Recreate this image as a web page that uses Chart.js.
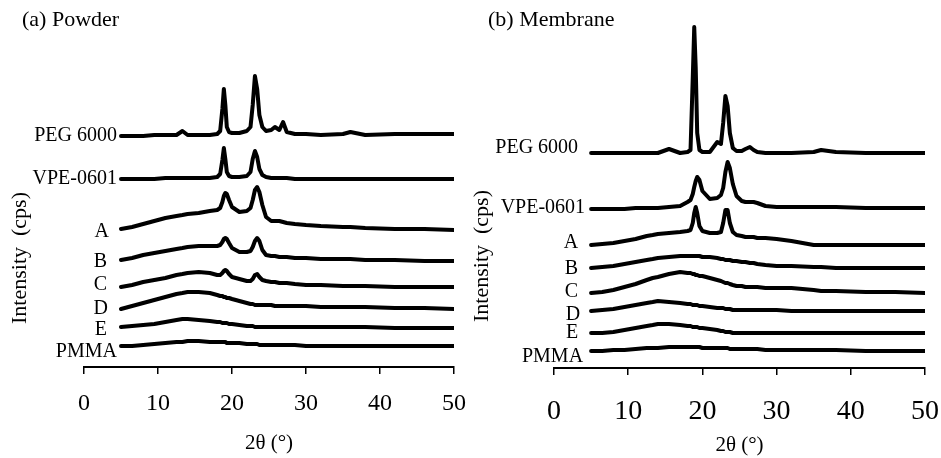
<!DOCTYPE html>
<html>
<head>
<meta charset="utf-8">
<script src="https://cdn.jsdelivr.net/npm/chart.js@4/dist/chart.umd.min.js"></script>
<style>
  html, body { margin: 0; padding: 0; background: #fff; }
  #wrap { position: relative; width: 941px; height: 458px; }
  canvas { position: absolute; top: 0; }
</style>
</head>
<body>
<div id="wrap">
  <canvas id="powderChart" width="470" height="458" style="left:0"></canvas>
  <canvas id="membraneChart" width="471" height="458" style="left:470px"></canvas>
</div>
<script>
// 2-theta positions shared by every pattern
const twoTheta = [5, 6.5, 8, 9.5, 11, 12.5, 13.3, 14, 15.5, 17, 18, 18.4, 18.7, 18.9, 19.1,
  19.3, 19.6, 20, 21, 22, 22.5, 22.8, 23.1, 23.4, 23.7, 24.1, 24.6, 25.3, 25.8, 26.4,
  26.9, 27.4, 28.5, 30, 32, 35, 36, 38, 42, 46, 50];

const sampleNames = ["PEG 6000", "VPE-0601", "A", "B", "C", "D", "E", "PMMA"];
const xTicks = [0, 10, 20, 30, 40, 50];

// (a) Powder, stacked intensities
const powderPEG = [231, 231, 231, 232, 232, 232, 236, 232, 232, 232, 233, 236, 258, 278, 262,
  240, 235, 234, 234, 236, 240, 262, 291, 278, 252, 240, 236, 237, 240, 237,
  245, 235, 233, 233, 232, 233, 235, 232, 233, 233, 233];
const powderVPE = [188, 188, 188, 188, 189, 189, 189, 189, 189, 189, 190, 193, 207, 219, 208,
  195, 191, 190, 190, 191, 195, 208, 216, 210, 198, 192, 190, 189, 189, 189,
  189, 189, 188, 188, 188, 188, 188, 188, 188, 188, 188];
const powderA = [138, 140, 143, 146, 149, 151, 152, 153, 154, 156, 157, 159, 165, 171, 174,
  173, 167, 160, 155, 156, 159, 167, 177, 180, 175, 162, 150, 146, 146, 146,
  145, 144, 143, 142, 141, 140, 140, 139, 138, 138, 137];
const powderB = [107, 109, 112, 114, 116, 118, 119, 120, 121, 121, 121, 122, 125, 128, 129,
  128, 124, 119, 115, 115, 116, 120, 126, 129, 126, 117, 112, 111, 111, 110,
  110, 110, 109, 109, 108, 108, 108, 107, 107, 106, 106];
const powderC = [80, 82, 85, 87, 89, 92, 93, 94, 95, 94, 92, 92, 94, 96, 97,
  96, 93, 90, 88, 86, 86, 88, 92, 93, 90, 87, 86, 85, 85, 84,
  84, 84, 83, 82, 82, 81, 81, 81, 80, 80, 80];
const powderD = [58, 61, 64, 67, 70, 73, 74, 75, 75, 74, 72, 71, 71, 70, 70,
  69, 69, 68, 66, 64, 63, 63, 62, 62, 62, 62, 62, 62, 61, 61,
  61, 61, 61, 61, 60, 60, 60, 60, 59, 59, 58];
const powderE = [40, 41, 42, 43, 45, 47, 48, 48, 47, 46, 45, 45, 44, 44, 44,
  44, 43, 43, 42, 41, 41, 41, 40, 40, 40, 40, 40, 40, 40, 40,
  40, 40, 40, 40, 40, 40, 40, 40, 39, 39, 39];
const powderPMMA = [21, 21, 22, 23, 24, 25, 25, 26, 26, 25, 25, 25, 25, 25, 25,
  24, 24, 24, 24, 23, 23, 23, 23, 23, 22, 22, 22, 22, 22, 22,
  22, 22, 22, 21, 21, 21, 21, 21, 21, 21, 21];

// (b) Membrane, stacked intensities
const membranePEG = [215, 215, 215, 215, 215, 215, 215, 215, 219, 215, 216, 218, 290, 341, 300,
  235, 218, 216, 216, 226, 224, 245, 272, 262, 235, 220, 217, 217, 219, 221,
  218, 216, 215, 215, 215, 216, 218, 216, 215, 215, 215];
const membraneVPE = [159, 159, 159, 159, 160, 160, 160, 160, 161, 162, 166, 168, 174, 181, 187,
  191, 188, 177, 169, 170, 173, 180, 196, 206, 200, 184, 172, 167, 166, 166,
  166, 165, 162, 161, 161, 161, 161, 161, 160, 160, 160];
const membraneA = [123, 124, 125, 127, 129, 132, 133, 134, 135, 136, 137, 138, 145, 155, 161,
  155, 142, 137, 135, 135, 136, 145, 158, 158, 145, 136, 133, 132, 131, 131,
  131, 130, 130, 129, 127, 123, 123, 123, 123, 123, 123];
const membraneB = [100, 101, 102, 104, 106, 108, 109, 110, 111, 112, 112, 112, 112, 112, 112,
  112, 112, 111, 111, 110, 109, 109, 108, 108, 108, 107, 107, 106, 106, 105,
  105, 104, 103, 102, 102, 101, 101, 100, 100, 100, 100];
const membraneC = [75, 76, 78, 81, 84, 88, 90, 91, 94, 96, 95, 95, 94, 94, 93,
  93, 92, 92, 90, 88, 87, 86, 85, 85, 84, 83, 82, 82, 81, 81,
  81, 81, 80, 80, 80, 78, 77, 77, 76, 76, 75];
const membraneD = [57, 58, 59, 61, 63, 65, 66, 67, 66, 65, 64, 64, 63, 63, 63,
  63, 62, 62, 61, 60, 60, 60, 59, 59, 59, 58, 58, 58, 58, 58,
  58, 58, 58, 58, 57, 57, 57, 57, 57, 57, 57];
const membraneE = [35, 35, 36, 38, 40, 42, 43, 44, 44, 43, 42, 42, 41, 41, 41,
  41, 40, 40, 39, 38, 37, 37, 36, 36, 36, 35, 35, 35, 35, 35,
  35, 35, 35, 35, 35, 35, 35, 35, 35, 35, 35];
const membranePMMA = [17, 17, 18, 18, 19, 20, 20, 20, 21, 21, 21, 21, 21, 21, 21,
  21, 21, 20, 20, 20, 20, 20, 20, 20, 19, 19, 19, 19, 19, 19,
  19, 19, 18, 18, 18, 18, 18, 18, 17, 17, 17];

const SERIF = "'Liberation Serif', 'Times New Roman', serif";

// draws panel title, y title and the sample names next to each trace
const annotate = {
  id: "annotate",
  afterDatasetsDraw(chart, args, opts) {
    const ctx = chart.ctx;
    ctx.save();
    ctx.fillStyle = "#000";

    ctx.font = "22px " + SERIF;
    ctx.textAlign = "left";
    ctx.textBaseline = "middle";
    ctx.fillText(opts.title, opts.titleX, 20);

    ctx.save();
    ctx.translate(opts.yTitleX, opts.yTitleY);
    ctx.rotate(-Math.PI / 2);
    ctx.textAlign = "center";
    ctx.fillText("Intensity  (cps)", 0, 0);
    ctx.restore();

    ctx.font = "20px " + SERIF;
    ctx.textAlign = "right";
    chart.data.datasets.forEach((ds, i) => {
      const p = chart.getDatasetMeta(i).data[0];
      const [gap, dy] = opts.labelShift[i];
      ctx.fillText(ds.label, p.x - gap, p.y + dy);
    });
    ctx.restore();
  },
};

function makePanel(id, series, cfg) {
  const datasets = series.map((vals, i) => ({
    label: sampleNames[i],
    data: twoTheta.map((t, k) => ({ x: t, y: vals[k] })),
    borderColor: "#000",
    borderWidth: 4,
    borderJoinStyle: "round",
    borderCapStyle: "round",
    pointRadius: 0,
    tension: 0,
    fill: false,
  }));

  new Chart(document.getElementById(id).getContext("2d"), {
    type: "line",
    data: { datasets: datasets },
    plugins: [annotate],
    options: {
      responsive: false,
      animation: false,
      layout: { padding: { left: 84, right: 16, top: cfg.top, bottom: 0 } },
      plugins: {
        legend: { display: false },
        tooltip: { enabled: false },
        annotate: cfg.annotate,
      },
      scales: {
        x: {
          type: "linear",
          min: 0,
          max: 50,
          afterBuildTicks: (s) => { s.ticks = xTicks.map((v) => ({ value: v })); },
          afterFit: (s) => {
            s.height = cfg.axisHeight;
            // end labels may overhang; keep the plot width fixed
            s.paddingLeft = 0;
            s.paddingRight = 0;
          },
          grid: {
            drawOnChartArea: false,
            drawTicks: true,
            tickLength: 7,
            color: "#000",
            lineWidth: 1.5,
          },
          border: { display: true, color: "#000", width: 2 },
          ticks: {
            color: "#000",
            padding: cfg.tickPad,
            maxRotation: 0,
            font: { family: SERIF, size: cfg.tickSize },
          },
          title: {
            display: true,
            text: "2θ (°)",
            color: "#000",
            font: { family: SERIF, size: 21 },
            padding: { top: 0, bottom: cfg.titlePad },
          },
        },
        y: {
          display: false,
          min: 0,
          max: cfg.yMax,
        },
      },
    },
  });
}

makePanel("powderChart",
  [powderPEG, powderVPE, powderA, powderB, powderC, powderD, powderE, powderPMMA], {
    top: 67, yMax: 300, axisHeight: 91, tickPad: 15, tickSize: 24, titlePad: 2,
    annotate: {
      title: "(a) Powder", titleX: 22, yTitleX: 20, yTitleY: 258,
      labelShift: [[4, 0], [4, 0], [12, 3], [14, 2], [14, -2], [13, 0], [14, 3], [4, 6]],
    },
  });

makePanel("membraneChart",
  [membranePEG, membraneVPE, membraneA, membraneB, membraneC, membraneD, membraneE, membranePMMA], {
    top: 18, yMax: 350, axisHeight: 90, tickPad: 20, tickSize: 28, titlePad: 0,
    annotate: {
      title: "(b) Membrane", titleX: 18, yTitleX: 12, yTitleY: 256,
      labelShift: [[13, -5], [6, -1], [13, -2], [13, 1], [13, -1], [11, 4], [13, 0], [8, 6]],
    },
  });
</script>
</body>
</html>
